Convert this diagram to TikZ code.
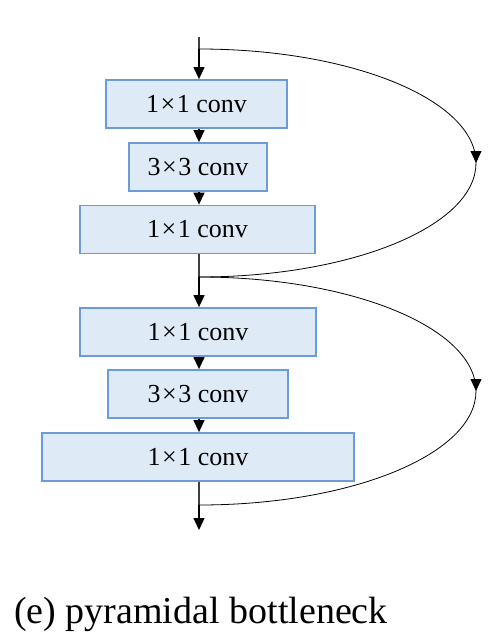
\documentclass[tikz,border=0pt]{standalone}
\usepackage{fontspec}
\setmainfont{Liberation Serif}
\usetikzlibrary{arrows.meta,decorations.markings}
\definecolor{boxfill}{HTML}{DEEAF6}
\definecolor{boxline}{HTML}{6C9BD6}
\definecolor{flowline}{HTML}{404040}
\newcommand{\tms}{\hspace{1.5pt}×\hspace{1.5pt}}
\begin{document}
\begin{tikzpicture}[x=1pt,y=-1pt,
  convbox/.style={draw=boxline,fill=boxfill,line width=1.8pt,inner sep=0pt,
    minimum height=48pt,font=\fontsize{26}{30}\selectfont},
  flow/.style={draw=flowline,line width=1.3pt,-{Triangle[length=12pt,width=11pt]},black},
  plain/.style={draw=flowline,line width=1.3pt},
  skip/.style={draw=black,line width=0.8pt,postaction={decorate},
    decoration={markings,mark=at position 0.5 with {\arrow{Triangle[length=12pt,width=11pt]}}}}
]
\useasboundingbox (0,0) rectangle (490,638);
\node[convbox,minimum width=181pt] (b1) at (196.5,104) {1\tms 1 conv};
\node[convbox,minimum width=138pt] (b2) at (198,167) {3\tms 3 conv};
\node[convbox,minimum width=235pt] (b3) at (197.5,229.5) {1\tms 1 conv};
\node[convbox,minimum width=236pt] (b4) at (198,332) {1\tms 1 conv};
\node[convbox,minimum width=180pt] (b5) at (198,394) {3\tms 3 conv};
\node[convbox,minimum width=312pt] (b6) at (198,457) {1\tms 1 conv};
\coordinate (in) at (199,37);
\coordinate (s1) at (199,49);
\coordinate (m1) at (199,277);
\coordinate (e2) at (199,505);
\coordinate (out) at (199,530);
\draw[plain] (in) -- (s1);
\draw[flow] (s1) -- (s1 |- b1.north);
\draw[flow] (b1.south -| in) -- (b2.north -| in);
\draw[flow] (b2.south -| in) -- (b3.north -| in);
\draw[plain] (b3.south -| in) -- (m1);
\draw[flow] (m1) -- (b4.north -| in);
\draw[flow] (b4.south -| in) -- (b5.north -| in);
\draw[flow] (b5.south -| in) -- (b6.north -| in);
\draw[plain] (b6.south -| in) -- (e2);
\draw[flow] (e2) -- (out);
\draw[skip] (s1) .. controls (352,49) and (476,100) .. (476,163)
  .. controls (476,226) and (352,277) .. (m1);
\draw[skip] (m1) .. controls (352,277) and (476,328) .. (476,391)
  .. controls (476,454) and (352,505) .. (e2);
\node[anchor=base west,inner sep=0pt,font=\fontsize{38}{44}\selectfont] (cap) at (14,623) {(e) pyramidal bottleneck};
\end{tikzpicture}
\end{document}
